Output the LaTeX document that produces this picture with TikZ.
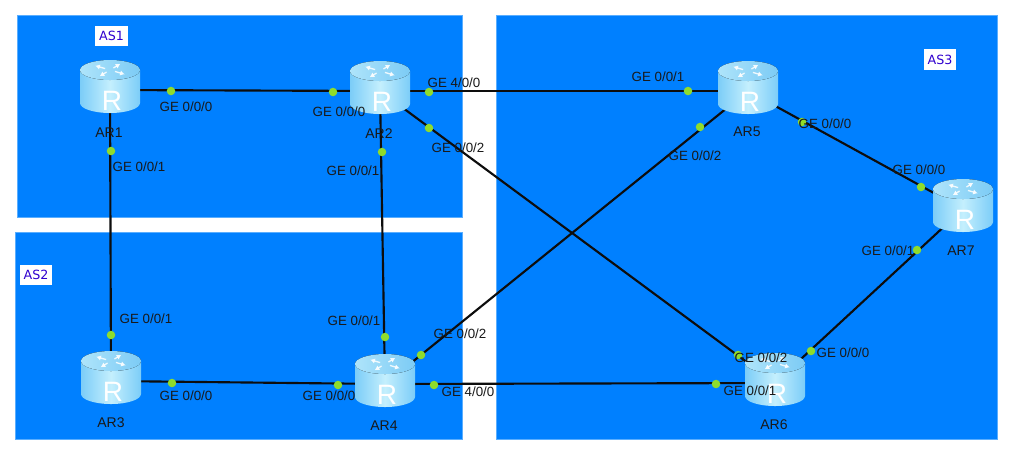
\documentclass[tikz,border=0pt]{standalone}
\usepackage{fontspec}
\setmainfont{Liberation Sans}
\newfontfamily\asfont{DejaVu Sans}
\usetikzlibrary{arrows.meta}
\definecolor{asblue}{HTML}{0080FF}
\definecolor{asedge}{HTML}{5AAEFF}
\definecolor{rlight}{HTML}{C4EFFD}
\definecolor{rmid}{HTML}{7CCDF8}
\definecolor{rtop}{HTML}{7CCBF5}
\definecolor{dotg}{HTML}{8FDC2C}
\tikzset{
  x=0.75pt,y=-0.75pt,
  asarea/.style={fill=asblue,draw=asedge,line width=0.6pt},
  aslabel/.style={fill=white,text=blue!75!purple,font=\asfont\fontsize{9.5}{11}\selectfont,inner sep=0pt,minimum width=24.5pt,minimum height=15.5pt},
  rnode/.style={inner sep=0pt,minimum width=45pt,minimum height=40pt},
  link/.style={line width=1.6pt,black!95},
  portdot/.style={circle,fill=dotg,inner sep=0pt,minimum size=6.4pt},
  portlabel/.style={text=black!90,font=\fontsize{10}{12}\selectfont,inner sep=0pt},
  namelabel/.style={text=black!90,font=\fontsize{10.5}{12}\selectfont,inner sep=0pt},
  router/.pic={
    \path[left color=rmid,right color=rmid,middle color=rlight]
      (-30,-20) -- (-30,13) arc[x radius=30,y radius=10,start angle=180,end angle=0] -- (30,-20) -- cycle;
    \fill[left color=rlight!70!rtop,right color=rtop] (0,-20) ellipse[x radius=30,y radius=10];
    \foreach \a in {35,125,215,305}{
      \draw[white,line width=1pt,opacity=.85,-{Latex[length=3.5pt,width=4pt]}]
        ({6*cos(\a)},{-20+2.5*sin(\a)}) -- ({18*cos(\a)},{-20+7.5*sin(\a)});
    }
    \node[text=white,font=\fontsize{21}{21}\selectfont,inner sep=0pt] at (2,11) {R};
  }
}
\begin{document}
\begin{tikzpicture}
\useasboundingbox (0,0) rectangle (1019,455);
\fill[white] (0,0) rectangle (1019,455);
\draw[asarea] (17,15) rectangle (462,217);
\draw[asarea] (15,232) rectangle (462,439);
\draw[asarea] (496,15) rectangle (997,439);
\node[aslabel] (as1) at (111.5,36) {AS1};
\node[aslabel] (as2) at (36,275) {AS2};
\node[aslabel] (as3) at (940,59.5) {AS3};
\node[rnode] (r1) at (110,90) {};
\node[rnode] (r2) at (380,91) {};
\node[rnode] (r3) at (111,381) {};
\node[rnode] (r4) at (385,384) {};
\node[rnode] (r5) at (748,91) {};
\node[rnode] (r6) at (775,383) {};
\node[rnode] (r7) at (963,209) {};
\draw[link] (r1.center) -- (r2.center);
\draw[link] (r1.center) -- (r3.center);
\draw[link] (r2.center) -- (r4.center);
\draw[link] (r3.center) -- (r4.center);
\draw[link] (r2.center) -- (r5.center);
\draw[link] (r2.center) -- (r6.center);
\draw[link] (r4.center) -- (r5.center);
\draw[link] (r4.center) -- (r6.center);
\draw[link] (r5.center) -- (r7.center);
\draw[link] (r6.center) -- (r7.center);
\foreach \n/\px/\py in {r1/110/90,r2/380/91,r3/111/381,r4/385/384,r5/748/91,r6/775/383,r7/963/209}{
  \pic at (\px,\py) {router};
}
\foreach \n/\px/\py in {d1/171/91,d2/333/92,d3/111/151,d4/429/92,d5/429/128,d6/382/152,d7/111/335,d8/172/383,d9/338/385,d10/385/337,d11/421/355,d12/434/385,d13/688/91,d14/700/127,d15/802/122,d16/921/187,d17/917/250,d18/811/351,d19/738/355,d20/716/384}{
  \node[portdot] (\n) at (\px,\py) {};
}
\foreach \px/\py/\t in {186/107/{GE 0/0/0},339/112/{GE 0/0/0},139/167/{GE 0/0/1},454/83/{GE 4/0/0},458/148/{GE 0/0/2},353/171/{GE 0/0/1},146/319/{GE 0/0/1},186/396/{GE 0/0/0},354/321/{GE 0/0/1},329/396/{GE 0/0/0},460/334/{GE 0/0/2},468/392/{GE 4/0/0},658/77/{GE 0/0/1},695/156/{GE 0/0/2},825/124/{GE 0/0/0},919/170/{GE 0/0/0},888/251/{GE 0/0/1},843/353/{GE 0/0/0},761/358/{GE 0/0/2},750/391/{GE 0/0/1}}{
  \node[portlabel] at (\px,\py) {\t};
}
\foreach \px/\py/\t in {109/133/AR1,379/134/AR2,111/423/AR3,384/426/AR4,747/132/AR5,774/425/AR6,961/251/AR7}{
  \node[namelabel] at (\px,\py) {\t};
}
\end{tikzpicture}
\end{document}
